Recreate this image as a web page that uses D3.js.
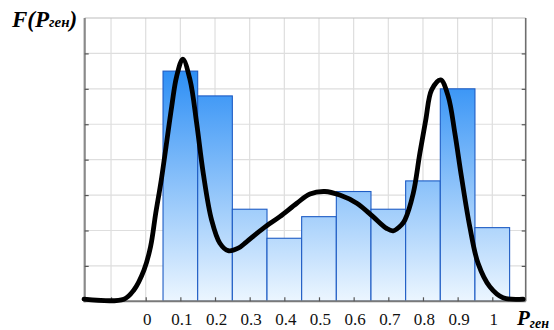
<!DOCTYPE html>
<html>
<head>
<meta charset="utf-8">
<script src="https://cdn.jsdelivr.net/npm/d3@7"></script>
<style>
  html, body { margin: 0; padding: 0; background: #fff; }
  svg { display: block; }
  .tick-label { font-family: "Liberation Serif", "Times New Roman", serif; font-size: 17px; fill: #111; }
  .axis-title { font-family: "Liberation Serif", "Times New Roman", serif; font-weight: bold; font-style: italic; fill: #000; }
</style>
</head>
<body>
<svg id="chart" width="554" height="330"></svg>
<script>
// Histogram of generation probability with a smoothed density curve
const binCenters = [0.1, 0.2, 0.3, 0.4, 0.5, 0.6, 0.7, 0.8, 0.9, 1.0];
const binFreq    = [6.5, 5.8, 2.6, 1.78, 2.39, 3.1, 2.6, 3.4, 6.0, 2.08];
const binWidth = 0.1;

const densityX = [-0.178, -0.063, -0.034, -0.005, 0.014, 0.029, 0.045, 0.075, 0.089, 0.107,
                  0.128, 0.147, 0.166, 0.190, 0.214, 0.238, 0.267, 0.291, 0.339, 0.387,
                  0.436, 0.474, 0.517, 0.560, 0.609, 0.656, 0.695, 0.714, 0.738, 0.748,
                  0.772, 0.791, 0.808, 0.825, 0.851, 0.873, 0.892, 0.911, 0.935, 0.959,
                  0.993, 1.031, 1.089];
const densityY = [0.06, 0.06, 0.32, 0.88, 1.54, 2.49, 3.43, 5.50, 6.34, 6.84,
                  6.25, 5.03, 3.62, 2.30, 1.64, 1.43, 1.50, 1.68, 2.06, 2.39,
                  2.77, 3.03, 3.10, 3.00, 2.77, 2.39, 2.06, 1.99, 2.16, 2.30,
                  3.05, 4.18, 5.12, 5.97, 6.25, 5.78, 4.75, 3.52, 2.11, 1.07,
                  0.41, 0.10, 0.06];

const xTickValues = [0, 0.1, 0.2, 0.3, 0.4, 0.5, 0.6, 0.7, 0.8, 0.9, 1];
const xTickLabels = ["0", "0.1", "0.2", "0.3", "0.4", "0.5", "0.6", "0.7", "0.8", "0.9", "1"];
const xGridValues = [-0.1, 0, 0.1, 0.2, 0.3, 0.4, 0.5, 0.6, 0.7, 0.8, 0.9, 1.0];
const yGridValues = [1, 2, 3, 4, 5, 6, 7];

const plot = { left: 84.7, right: 525.7, top: 18, bottom: 301.3 };

const svg = d3.select("#chart");

const x = d3.scaleLinear().domain([-0.176, 1.0964]).range([plot.left, plot.right]);
const y = d3.scaleLinear().domain([0, 8]).range([plot.bottom, plot.top]);

// Bar fill: blue fading toward the baseline, shared across all bars
const defs = svg.append("defs");
const grad = defs.append("linearGradient")
  .attr("id", "barFill")
  .attr("gradientUnits", "userSpaceOnUse")
  .attr("x1", 0).attr("x2", 0)
  .attr("y1", y(6.5)).attr("y2", y(0));
grad.append("stop").attr("offset", "0%").attr("stop-color", "rgb(46,143,245)");
grad.append("stop").attr("offset", "100%").attr("stop-color", "rgb(236,246,255)");

// Grid
const grid = svg.append("g").attr("stroke", "#dedede").attr("stroke-width", 1.2);
grid.selectAll("line.v").data(xGridValues).join("line")
  .attr("x1", d => x(d)).attr("x2", d => x(d))
  .attr("y1", plot.top).attr("y2", plot.bottom);
grid.selectAll("line.h").data(yGridValues).join("line")
  .attr("x1", plot.left).attr("x2", plot.right)
  .attr("y1", d => y(d)).attr("y2", d => y(d));

// Bars
svg.append("g").selectAll("rect").data(binCenters).join("rect")
  .attr("x", d => x(d - binWidth / 2))
  .attr("width", d => x(d + binWidth / 2) - x(d - binWidth / 2))
  .attr("y", (d, i) => y(binFreq[i]))
  .attr("height", (d, i) => y(0) - y(binFreq[i]))
  .attr("fill", "url(#barFill)")
  .attr("stroke", "#1e5cc4")
  .attr("stroke-width", 1.1);

// Frame
const frame = svg.append("g").attr("fill", "none");
frame.append("line").attr("x1", plot.left).attr("x2", plot.right)
  .attr("y1", plot.top).attr("y2", plot.top)
  .attr("stroke", "#bdbdbd").attr("stroke-width", 1.2);
frame.append("line").attr("x1", plot.right).attr("x2", plot.right)
  .attr("y1", plot.top).attr("y2", plot.bottom)
  .attr("stroke", "#6e6e6e").attr("stroke-width", 1.6);
frame.append("line").attr("x1", plot.left).attr("x2", plot.left)
  .attr("y1", plot.top).attr("y2", plot.bottom + 1)
  .attr("stroke", "#8a8a8a").attr("stroke-width", 2.2);
frame.append("line").attr("x1", plot.left - 1).attr("x2", plot.right)
  .attr("y1", plot.bottom).attr("y2", plot.bottom)
  .attr("stroke", "#7a7a7a").attr("stroke-width", 2);

// Inward tick marks on left, right and bottom edges
const leftAxis = d3.axisRight(y).tickValues(yGridValues).tickSize(4).tickFormat("");
const rightAxis = d3.axisLeft(y).tickValues(yGridValues).tickSize(4).tickFormat("");
const bottomAxis = d3.axisTop(x).tickValues(xGridValues).tickSize(4).tickFormat("");
[[leftAxis, `translate(${plot.left},0)`], [rightAxis, `translate(${plot.right},0)`],
 [bottomAxis, `translate(0,${plot.bottom})`]].forEach(([ax, tr]) => {
  const g = svg.append("g").attr("transform", tr).call(ax);
  g.select(".domain").remove();
  g.selectAll(".tick line").attr("stroke", "#555").attr("stroke-width", 1.2);
});

// Tick labels
const labelAxis = d3.axisBottom(x).tickValues(xTickValues).tickSize(0)
  .tickFormat((d, i) => xTickLabels[i]);
const lg = svg.append("g").attr("transform", `translate(1,${plot.bottom})`).call(labelAxis);
lg.select(".domain").remove();
lg.selectAll("text").attr("class", "tick-label").attr("dy", null).attr("y", 23.5)
  .attr("fill", "#111");

// Density curve
const line = d3.line()
  .x((d, i) => x(densityX[i]))
  .y((d, i) => y(densityY[i]))
  .curve(d3.curveCatmullRom.alpha(0.5));
svg.append("path")
  .datum(densityX)
  .attr("d", line)
  .attr("fill", "none")
  .attr("stroke", "#000")
  .attr("stroke-width", 4.8)
  .attr("stroke-linejoin", "round")
  .attr("stroke-linecap", "round");

// Axis titles
const yTitle = svg.append("text").attr("class", "axis-title").attr("x", 12).attr("y", 27);
yTitle.append("tspan").attr("font-size", 23).text("F(P");
yTitle.append("tspan").attr("font-size", 15).text("ген");
yTitle.append("tspan").attr("font-size", 23).text(")");

const xTitle = svg.append("text").attr("class", "axis-title").attr("x", 517).attr("y", 325);
xTitle.append("tspan").attr("font-size", 21).text("P");
xTitle.append("tspan").attr("font-size", 14).attr("dy", 3).text("ген");
</script>
</body>
</html>
